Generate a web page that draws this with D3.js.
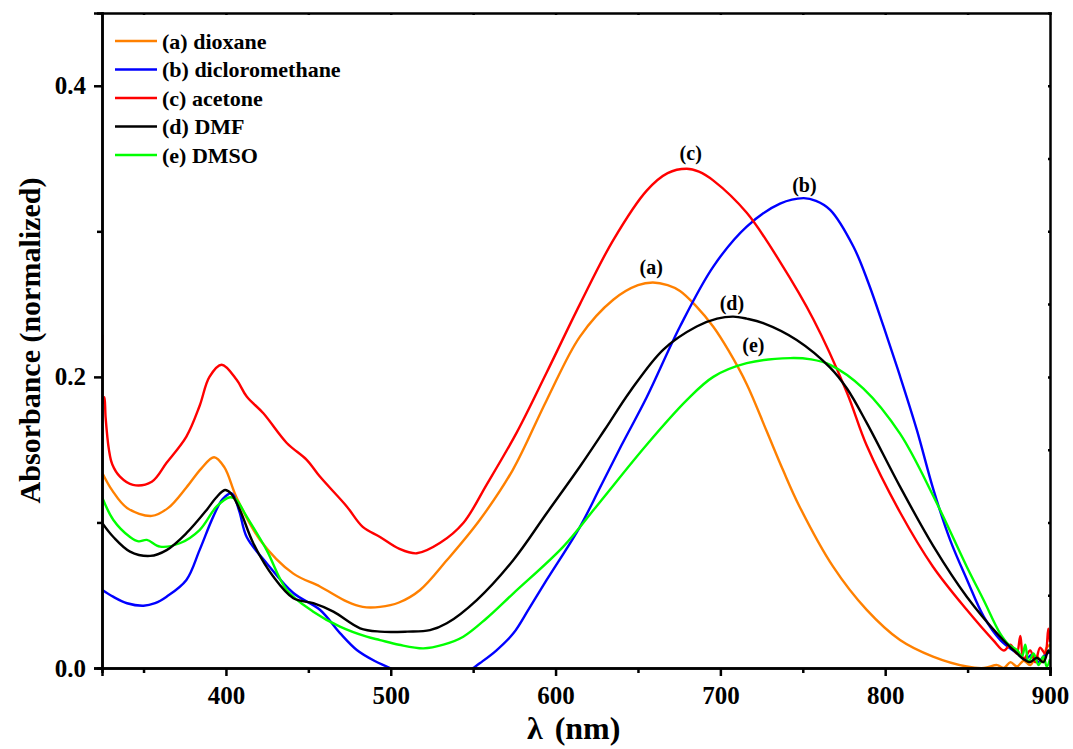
<!DOCTYPE html>
<html>
<head>
<meta charset="utf-8">
<script src="https://cdn.jsdelivr.net/npm/d3@7"></script>
<style>
  body { margin: 0; background: #fff; }
  svg text { font-family: "Liberation Serif", "DejaVu Serif", serif !important; font-weight: bold; fill: #000; }
</style>
</head>
<body>
<div id="canvas"></div>
<script>
// x ticks, y ticks
var xTicks = [400, 500, 600, 700, 800, 900];
var yTicks = [0.0, 0.2, 0.4];

// series: [wavelength nm, absorbance]
var dioxane = [[325,0.134],[331,0.122],[340,0.110],[355,0.1045],[365,0.110],[376,0.124],[385,0.137],[392.8,0.1448],[399,0.138],[406.5,0.117],[420.7,0.088],[440.7,0.065],[457,0.056],[473.5,0.0456],[483,0.042],[493.5,0.042],[505,0.045],[517.8,0.0536],[534,0.074],[554,0.1017],[574,0.136],[594.6,0.184],[614.8,0.2277],[635,0.253],[650,0.263],[659,0.2648],[668,0.263],[675.5,0.259],[685,0.249],[695.6,0.2346],[705,0.218],[716,0.195],[728,0.163],[738,0.136],[748,0.111],[768.4,0.0696],[788.8,0.0399],[809,0.0192],[829,0.0078],[849.5,0.001],[860,0.0],[868,0.002],[872,0.0],[876,0.004],[880,0.001],[884,0.005],[888,0.002],[892,0.008],[895,0.004],[898,0.014],[900,0.016]];

var dicloromethane = [[325,0.0536],[331.5,0.049],[340,0.0445],[350,0.0428],[357,0.0445],[364,0.049],[376,0.0605],[384,0.081],[392.3,0.104],[398,0.116],[403.5,0.12],[408,0.108],[412.6,0.090],[424.7,0.072],[440.9,0.0515],[457,0.040],[469.2,0.024],[479.4,0.0124],[490,0.005],[499.5,0.0],[512,-0.008],[525,-0.012],[540,-0.008],[550,0.0],[554.2,0.0034],[564,0.012],[574.4,0.0238],[584,0.041],[594.6,0.0605],[614.8,0.097],[627,0.124],[640,0.153],[655.3,0.186],[675.5,0.2346],[695.7,0.2758],[716,0.3033],[736.2,0.319],[750.4,0.3228],[758,0.321],[766.6,0.3148],[780.7,0.2896],[790,0.264],[798.9,0.235],[809,0.2005],[819.2,0.1636],[829.4,0.122],[839.5,0.0877],[849.7,0.0605],[859.8,0.0353],[869.9,0.0192],[880,0.0101],[885,0.006],[889,0.009],[893,0.004],[896,0.008],[900,0.011]];

var acetone = [[325,0.229],[325.4,0.182],[326.3,0.186],[327,0.172],[329,0.150],[331,0.140],[335.7,0.1315],[343.6,0.1258],[355,0.128],[364,0.141],[376,0.159],[384,0.180],[390,0.200],[397.4,0.2083],[406.5,0.198],[412.6,0.1865],[422.7,0.175],[436.9,0.1546],[449,0.143],[457,0.1315],[473.3,0.111],[483,0.097],[493.5,0.090],[505,0.082],[515.8,0.0788],[530,0.086],[544,0.0996],[558.2,0.126],[576.4,0.1617],[594.6,0.203],[614.8,0.250],[635,0.294],[655.3,0.328],[668,0.340],[679.6,0.343],[687,0.341],[695.6,0.335],[716,0.3127],[736.2,0.279],[756.4,0.2396],[776.7,0.1895],[788.8,0.1528],[809,0.107],[829,0.0696],[849.5,0.040],[865.5,0.0192],[872,0.012],[876,0.016],[879.8,0.01],[882,0.022],[884,0.006],[888,0.012],[891,0.004],[894,0.014],[897,0.01],[899,0.027],[900,0.018]];

var dmf = [[325,0.0995],[331.7,0.090],[341.8,0.080],[354,0.077],[364,0.081],[376,0.0926],[388.3,0.1086],[394,0.117],[399.4,0.1223],[403,0.120],[408.5,0.1086],[416.6,0.0857],[428.7,0.0628],[440.9,0.0479],[453,0.0445],[465.2,0.0387],[481.4,0.0273],[493.5,0.025],[510,0.025],[523.8,0.026],[534,0.0307],[552.2,0.0467],[574.4,0.0742],[594.6,0.1063],[614.8,0.1384],[630,0.164],[645.2,0.190],[665.4,0.2188],[685.6,0.2346],[698,0.240],[707.8,0.2414],[716,0.240],[726,0.237],[746.3,0.2254],[766.6,0.2064],[776.8,0.192],[788.8,0.1684],[809,0.1246],[829.4,0.0834],[849.5,0.049],[869.7,0.0215],[880,0.01],[884,0.006],[888,0.004],[892,0.007],[896,0.004],[899,0.012],[900,0.01]];

var dmso = [[325,0.117],[331.7,0.1017],[341.8,0.090],[347,0.087],[352,0.088],[360,0.0834],[372,0.0857],[384,0.0948],[394.4,0.111],[402.5,0.1173],[406,0.116],[412.6,0.104],[424.7,0.081],[436.9,0.0536],[453,0.0387],[469.2,0.0284],[485.4,0.0215],[493.5,0.0192],[505,0.016],[519.8,0.0135],[532,0.016],[544,0.0215],[558,0.034],[574.4,0.0513],[604.7,0.0834],[624.9,0.1112],[655.3,0.1534],[679.6,0.184],[695.7,0.2],[716,0.2094],[742.3,0.2129],[755,0.212],[766.6,0.2083],[786.8,0.192],[809,0.161],[829.4,0.1177],[849.5,0.0696],[859.7,0.0467],[869.7,0.0238],[875,0.016],[880,0.0124],[883,0.008],[885,0.016],[887,0.004],[890,0.01],[893,0.002],[896,0.008],[898,0.001],[900,0.006]];

var seriesNames = ["(a) dioxane", "(b) dicloromethane", "(c) acetone", "(d) DMF", "(e) DMSO"];
var seriesColors = ["#ff8000", "#0000ff", "#ff0000", "#000000", "#00ff00"];
var seriesData = [dioxane, dicloromethane, acetone, dmf, dmso];

// peak labels: [text, nm, absorbance of baseline]
var peakLabels = [["(a)", 658, 0.271], ["(b)", 751, 0.327], ["(c)", 682, 0.349], ["(d)", 707, 0.246], ["(e)", 720, 0.217]];

var FONT = "'Liberation Serif', 'DejaVu Serif', serif";

var margin = {top: 13, right: 23, bottom: 81, left: 102},
	width = 1073 - margin.left - margin.right,
	height = 749 - margin.top - margin.bottom;

var svg = d3.select("#canvas").append("svg")
	.attr("width", 1073)
	.attr("height", 749),
	g = svg.append("g")
	.attr("transform", "translate(" + margin.left + "," + margin.top + ")");

var x = d3.scaleLinear().domain([324.8, 900]).range([0, width]);
var y = d3.scaleLinear().domain([0, 0.45]).range([height, 0]);

g.append("clipPath").attr("id", "clip")
	.append("rect").attr("width", width).attr("height", height);

// curves
var line = d3.line()
	.curve(d3.curveCatmullRom.alpha(0.5))
	.x(function(d) { return x(d[0]); })
	.y(function(d) { return y(d[1]); });

// draw order so that green and black sit on top like the original
var order = [0, 1, 2, 4, 3];
g.append("g").attr("clip-path", "url(#clip)")
	.selectAll("path")
	.data(order)
	.enter().append("path")
	.attr("fill", "none")
	.attr("stroke", function(i) { return seriesColors[i]; })
	.attr("stroke-width", 2.4)
	.attr("stroke-linejoin", "round")
	.attr("d", function(i) { return line(seriesData[i]); });

// axes
var xAxis = g.append("g")
	.attr("transform", "translate(0," + height + ")")
	.call(d3.axisBottom(x).tickValues(xTicks).tickSize(8).tickPadding(10).tickFormat(d3.format("d")));
var yAxis = g.append("g")
	.call(d3.axisLeft(y).tickValues(yTicks).tickSize(8).tickPadding(8).tickFormat(d3.format(".1f")));

// minor ticks
g.append("g")
	.attr("transform", "translate(0," + height + ")")
	.call(d3.axisBottom(x).tickValues([350, 450, 550, 650, 750, 850]).tickSize(5).tickFormat(""));
g.append("g")
	.call(d3.axisLeft(y).tickValues([0.1, 0.3]).tickSize(5).tickFormat(""));

// top and right frame with tiny inside ticks
g.append("g")
	.call(d3.axisTop(x).tickValues([350, 400, 450, 500, 550, 600, 650, 700, 750, 800, 850]).tickSize(-2).tickFormat(""));
g.append("g")
	.attr("transform", "translate(" + width + ",0)")
	.call(d3.axisRight(y).tickValues([0.05, 0.1, 0.15, 0.2, 0.25, 0.3, 0.35, 0.4]).tickSize(-2).tickFormat(""));

g.selectAll(".domain").attr("stroke", "#000").attr("stroke-width", 2.5);
g.selectAll(".tick line").attr("stroke", "#000").attr("stroke-width", 2.5);
xAxis.attr("font-family", null);
yAxis.attr("font-family", null);
xAxis.selectAll("text").style("font-size", "25px").style("font-family", FONT).style("font-weight", "bold");
yAxis.selectAll("text").style("font-size", "25px").style("font-family", FONT).style("font-weight", "bold");

// axis titles
var xTitle = svg.append("text")
	.attr("x", margin.left + x(611))
	.attr("y", 739)
	.attr("text-anchor", "middle")
	.style("font-family", FONT)
	.style("font-size", "32px");
xTitle.append("tspan").text("λ");
xTitle.append("tspan").attr("dx", 12).text("(nm)");

svg.append("text")
	.attr("transform", "translate(40," + (margin.top + y(0.225)) + ") rotate(-90)")
	.attr("text-anchor", "middle")
	.style("font-family", FONT)
	.style("font-size", "30px")
	.text("Absorbance (normalized)");

// legend
var legend = g.append("g").selectAll("g")
	.data(seriesNames)
	.enter().append("g")
	.attr("transform", function(d, i) { return "translate(13," + (28 + i * 28.5) + ")"; });
legend.append("line")
	.attr("x1", 0).attr("x2", 42)
	.attr("stroke", function(d, i) { return seriesColors[i]; })
	.attr("stroke-width", 2.4);
legend.append("text")
	.attr("x", 47)
	.attr("dy", "0.35em")
	.style("font-family", FONT)
	.style("font-size", "22px")
	.text(function(d) { return d; });

// peak labels
g.append("g").selectAll("text")
	.data(peakLabels)
	.enter().append("text")
	.attr("x", function(d) { return x(d[1]); })
	.attr("y", function(d) { return y(d[2]); })
	.attr("text-anchor", "middle")
	.style("font-family", FONT)
	.style("font-size", "20px")
	.text(function(d) { return d[0]; });
</script>
</body>
</html>
